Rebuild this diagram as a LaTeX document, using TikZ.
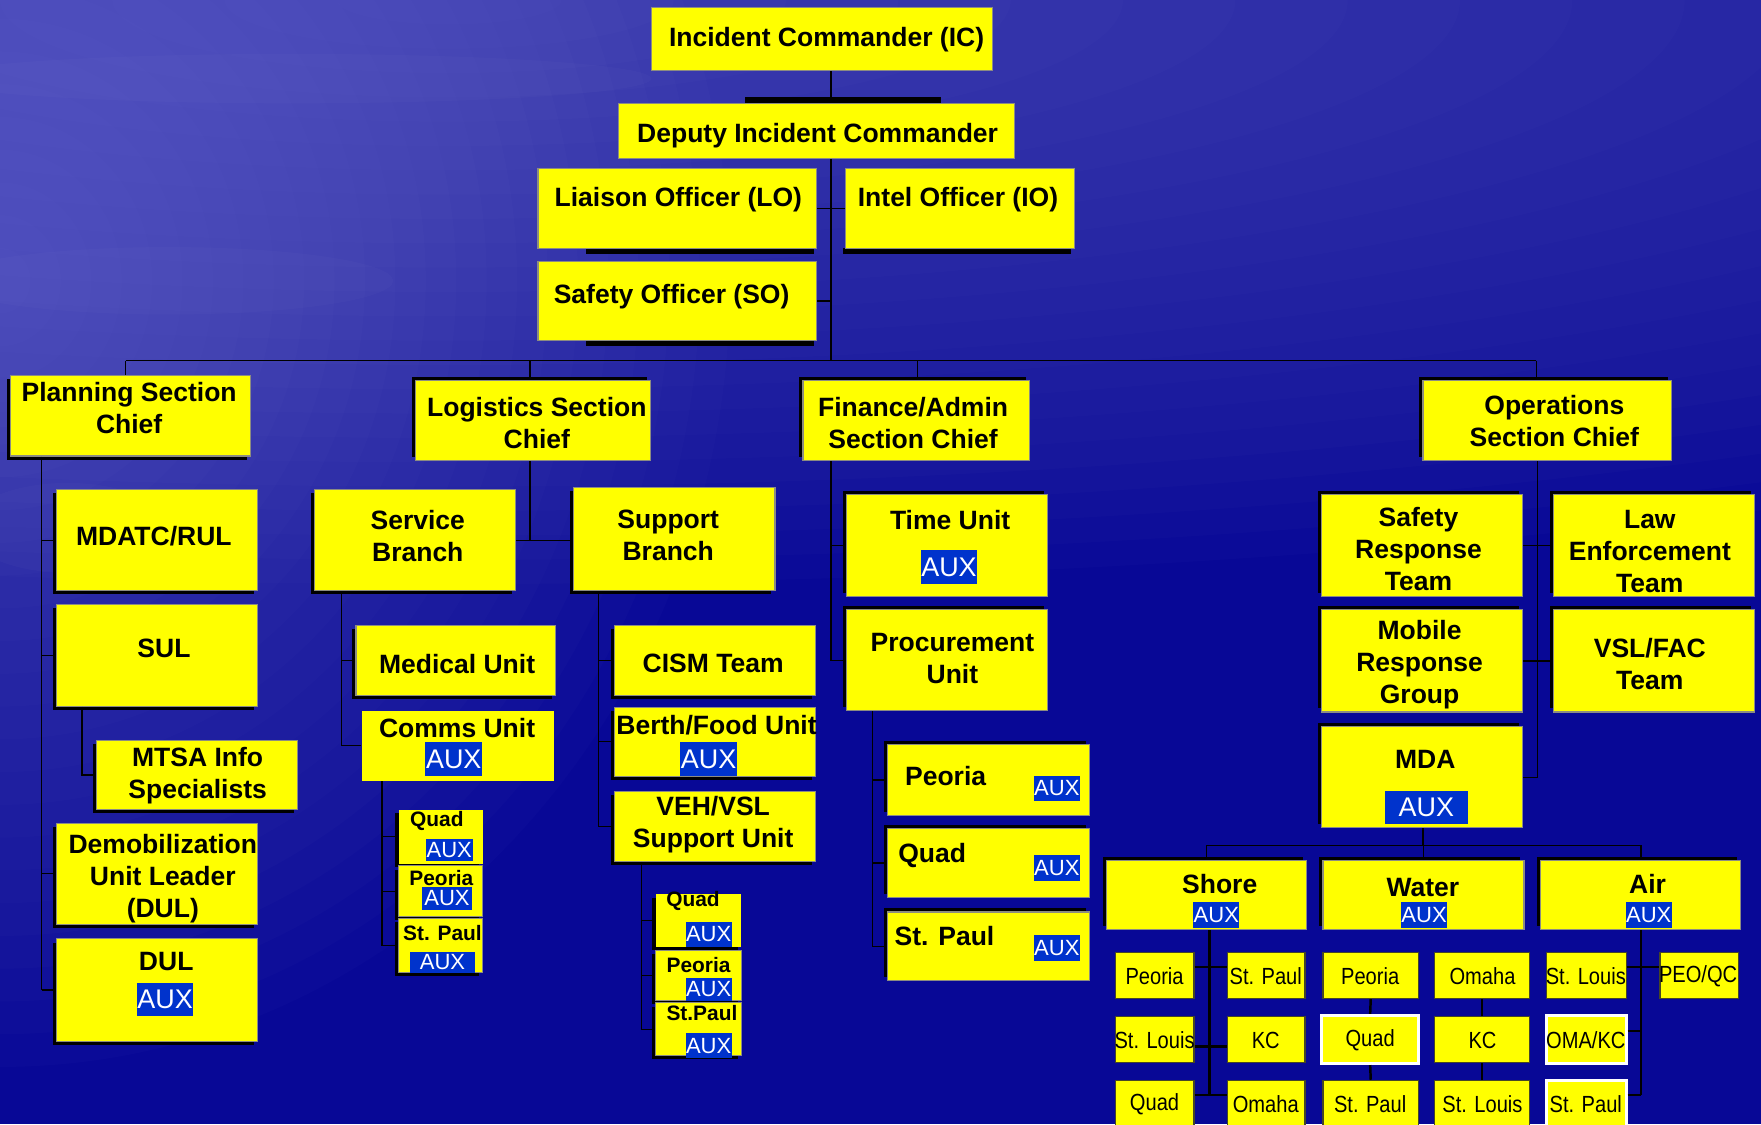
\documentclass[tikz,border=0pt]{standalone}
\usepackage{fontspec}
\setmainfont{Liberation Sans}
\newfontfamily\citycond[FakeStretch=0.86]{Liberation Sans}
\usetikzlibrary{fit,shadows,calc}
\definecolor{bgdark}{RGB}{8,8,150}
\definecolor{bglight}{RGB}{150,150,235}
\definecolor{yel}{RGB}{255,255,0}
\definecolor{auxblue}{RGB}{0,51,204}
\definecolor{edge}{RGB}{140,140,130}
\definecolor{cedge}{RGB}{70,70,40}
\begin{document}
\begin{tikzpicture}[x=0.5pt,y=-0.5pt,
 ybox/.style={fill=yel, draw=edge, line width=0.5pt, inner sep=0pt},
 nobox/.style={fill=yel, draw=none, inner sep=0pt},
 sBL/.style={general shadow={fill=black, shadow xshift=-1.6pt, shadow yshift=-1.6pt}},
 sTL/.style={general shadow={fill=black, shadow xshift=-1.6pt, shadow yshift=1.6pt}},
 city/.style={fill=yel, draw=cedge, line width=0.6pt, inner sep=0pt},
 wcity/.style={fill=yel, draw=white, line width=1.3pt, inner sep=0pt},
 tt/.style={font=\fontsize{11.8}{14.2}\selectfont\bfseries, align=center, inner sep=0pt},
 ts/.style={font=\fontsize{9.3}{11}\selectfont\bfseries, inner sep=0pt},
 tc/.style={font=\citycond\fontsize{10.4}{11}\selectfont, inner sep=0pt},
 auxL/.style={fill=auxblue, text=white, font=\fontsize{12}{12}\selectfont, inner xsep=0.3pt, inner ysep=0pt, minimum height=15pt},
 auxM/.style={fill=auxblue, text=white, font=\fontsize{9.8}{10}\selectfont, inner xsep=0.2pt, inner ysep=0pt, minimum height=11.5pt},
 conn/.style={draw=black, line width=0.6pt},
 tconn/.style={draw=black, line width=1.1pt},
]
\useasboundingbox (0,0) rectangle (1568,1001);
\clip (0,0) rectangle (1568,1001);
% background
\fill[bgdark] (0,0) rectangle (1568,1001);
\foreach \k in {0,...,23}{
  \pgfmathsetmacro\s{1-\k/24}
  \fill[bglight, opacity=0.025] (400,0) ellipse ({2400*\s} and {520*\s});
  \fill[bglight, opacity=0.025] (0,250) ellipse ({650*\s} and {700*\s});
}
\fill[white, opacity=0.02] (260,70) ellipse (320 and 22);
\fill[white, opacity=0.02] (150,250) ellipse (200 and 30);
\fill[white, opacity=0.02] (60,470) ellipse (90 and 40);

% ---------- top command ----------
\node[ybox, fit={(580,7) (884,63)}] (ic) {};
\fill[black] (663,86) rectangle (838,92);
\node[ybox, fit={(551,92) (903,141)}] (dep) {};
\fill[black] (522,221) rectangle (725,226);
\fill[black] (751,221) rectangle (954,226);
\fill[black] (522,303) rectangle (725,308);
\node[ybox, fit={(479,150) (727,221)}] (lo) {};
\node[ybox, fit={(753,150) (957,221)}] (io) {};
\node[ybox, fit={(479,233) (727,303)}] (so) {};
\node[tt] (t-ic) at (736,35) {Incident Commander (IC)};
\node[tt] (t-dep) at (728,121) {Deputy Incident Commander};
\node[tt] (t-lo) at (604,178) {Liaison Officer (LO)};
\node[tt] (t-io) at (853,178) {Intel Officer (IO)};
\node[tt] (t-so) at (598,264) {Safety Officer (SO)};

% ---------- sections ----------
\node[ybox, sBL, fit={(9,334) (223,406)}] (plan) {};
\node[ybox, sTL, fit={(370,339) (579,410)}] (log) {};
\node[ybox, sTL, fit={(715,339) (917,410)}] (fin) {};
\node[ybox, sTL, fit={(1267,339) (1488,410)}] (ops) {};
\node[tt] (t-plan) at (115,363) {Planning Section\\Chief};
\node[tt] (t-log) at (478,377) {Logistics Section\\Chief};
\node[tt] (t-fin) at (813,377) {Finance/Admin\\Section Chief};
\node[tt] (t-ops) at (1384,375) {Operations\\Section Chief};

% ---------- planning ----------
\node[ybox, sBL, fit={(50,436) (229,526)}] (mdatc) {};
\node[ybox, sBL, fit={(50,538) (229,629)}] (sul) {};
\node[ybox, sBL, fit={(86,659) (265,721)}] (mtsa) {};
\node[ybox, sBL, fit={(50,733) (229,823)}] (demob) {};
\node[ybox, sBL, fit={(50,836) (229,927)}] (dul) {};
\node[tt] (t-mdatc) at (137,477) {MDATC/RUL};
\node[tt] (t-sul) at (146,577) {SUL};
\node[tt] (t-mtsa) at (176,691) {MTSA Info\\Specialists};
\node[tt] (t-demob) at (145,782) {Demobilization\\Unit Leader\\(DUL)};
\node[tt] (t-dul) at (148,856) {DUL};
\node[auxL] (a-dul) at (147,890) {AUX};

% ---------- logistics ----------
\node[ybox, sBL, fit={(280,436) (459,526)}] (serv) {};
\node[ybox, sBL, fit={(511,434) (690,526)}] (supp) {};
\node[ybox, sBL, fit={(317,557) (495,619)}] (med) {};
\node[nobox, fit={(322,633) (493,695)}] (comms) {};
\node[nobox, sBL, fit={(355,721) (430,769)}] (lquad) {};
\node[ybox, sBL, fit={(355,771) (430,816)}] (lpeo) {};
\node[ybox, sBL, fit={(355,818) (430,866)}] (lstp) {};
\node[ybox, sBL, fit={(547,557) (726,619)}] (cism) {};
\node[ybox, sBL, fit={(547,630) (726,691)}] (berth) {};
\node[ybox, sBL, fit={(547,705) (726,767)}] (veh) {};
\node[nobox, sBL, fit={(584,796) (660,843)}] (squad) {};
\node[ybox, sBL, fit={(584,846) (660,891)}] (speo) {};
\node[ybox, sBL, fit={(584,893) (660,940)}] (sstp) {};
\node[tt] (t-serv) at (372,477) {Service\\Branch};
\node[tt] (t-supp) at (595,477) {Support\\Branch};
\node[tt] (t-med) at (407,591) {Medical Unit};
\node[tt] (t-comms) at (407,648) {Comms Unit};
\node[auxL] (a-comms) at (404,676) {AUX};
\node[ts] (t-lquad) at (389,731) {Quad};
\node[auxM, minimum width=21pt, minimum height=10pt] (a-lquad) at (400,757) {AUX};
\node[ts] (t-lpeo) at (393,782) {Peoria};
\node[auxM, minimum width=22pt, minimum height=10pt] (a-lpeo) at (398,800) {AUX};
\node[ts] (t-lstp) at (394,831) {St. Paul};
\node[auxM, minimum width=29pt, minimum height=9.5pt] (a-lstp) at (394,857) {AUX};
\node[tt] (t-cism) at (635,591) {CISM Team};
\node[tt] (t-berth) at (638,646) {Berth/Food Unit};
\node[auxL] (a-berth) at (631,676) {AUX};
\node[tt] (t-veh) at (635,734) {VEH/VSL\\Support Unit};
\node[ts] (t-squad) at (617,802) {Quad};
\node[auxM, minimum height=11pt] (a-squad) at (631,832) {AUX};
\node[ts] (t-speo) at (622,859) {Peoria};
\node[auxM, minimum height=10.5pt] (a-speo) at (631,881) {AUX};
\node[ts] (t-sstp) at (625,902) {St.Paul};
\node[auxM, minimum height=11pt] (a-sstp) at (631,931) {AUX};

% ---------- finance ----------
\node[ybox, sTL, fit={(754,440) (933,531)}] (time) {};
\node[ybox, sTL, fit={(754,543) (933,633)}] (proc) {};
\node[ybox, sTL, fit={(790,663) (970,726)}] (fpeo) {};
\node[ybox, sTL, fit={(790,738) (970,799)}] (fquad) {};
\node[ybox, sTL, fit={(790,812) (970,873)}] (fstp) {};
\node[tt] (t-time) at (846,463) {Time Unit};
\node[auxL] (a-time) at (845,505) {AUX};
\node[tt] (t-proc) at (848,586) {Procurement\\Unit};
\node[tt] (t-fpeo) at (842,691) {Peoria};
\node[auxM] (a-fpeo) at (941,702) {AUX};
\node[tt] (t-fquad) at (830,762) {Quad};
\node[auxM] (a-fquad) at (941,773) {AUX};
\node[tt] (t-fstp) at (841,833) {St. Paul};
\node[auxM] (a-fstp) at (941,844) {AUX};

% ---------- operations ----------
\node[ybox, sTL, fit={(1177,440) (1356,531)}] (srt) {};
\node[ybox, sTL, fit={(1383,440) (1562,531)}] (law) {};
\node[ybox, sTL, fit={(1177,543) (1356,634)}] (mrg) {};
\node[ybox, sTL, fit={(1383,543) (1562,634)}] (vsl) {};
\node[ybox, sTL, fit={(1177,647) (1356,737)}] (mda) {};
\node[tt] (t-srt) at (1263,489) {Safety\\Response\\Team};
\node[tt] (t-law) at (1469,491) {Law\\Enforcement\\Team};
\node[tt] (t-mrg) at (1264,592) {Mobile\\Response\\Group};
\node[tt] (t-vsl) at (1469,591) {VSL/FAC\\Team};
\node[tt] (t-mda) at (1269,676) {MDA};
\node[auxL, inner xsep=6pt, minimum height=14.5pt] (a-mda) at (1270,719) {AUX};

\node[ybox, sTL, fit={(985,766) (1163,828)}] (shore) {};
\node[ybox, sTL, fit={(1178,766) (1357,828)}] (water) {};
\node[ybox, sTL, fit={(1372,766) (1550,828)}] (air) {};
\node[tt] (t-shore) at (1086,787) {Shore};
\node[auxM] (a-shore) at (1083,815) {AUX};
\node[tt] (t-water) at (1267,790) {Water};
\node[auxM] (a-water) at (1268,815) {AUX};
\node[tt] (t-air) at (1467,787) {Air};
\node[auxM] (a-air) at (1468,815) {AUX};

% city boxes
\node[city, fit={(993,848) (1063,889)}] (c1) {};
\node[city, fit={(1093,848) (1162,889)}] (c2) {};
\node[city, fit={(993,905) (1063,946)}] (c3) {};
\node[city, fit={(1093,905) (1162,946)}] (c4) {};
\node[city, fit={(993,962) (1063,1015)}] (c5) {};
\node[city, fit={(1093,962) (1162,1015)}] (c6) {};
\node[city, fit={(1178,848) (1263,889)}] (w1) {};
\node[wcity, fit={(1177,904) (1263,947)}] (w2) {};
\node[city, fit={(1178,962) (1263,1015)}] (w3) {};
\node[city, fit={(1277,848) (1362,889)}] (w4) {};
\node[city, fit={(1277,905) (1362,946)}] (w5) {};
\node[city, fit={(1277,962) (1362,1015)}] (w6) {};
\node[city, fit={(1377,848) (1448,889)}] (a1) {};
\node[city, fit={(1478,848) (1548,889)}] (a2) {};
\node[wcity, fit={(1377,904) (1448,947)}] (a3) {};
\node[wcity, fit={(1377,962) (1448,1015)}] (a4) {};
\node[tc] (t-c1) at (1028,869) {Peoria};
\node[tc] (t-c2) at (1127,869) {St. Paul};
\node[tc] (t-c3) at (1028,926) {St. Louis};
\node[tc] (t-c4) at (1127,926) {KC};
\node[tc] (t-c5) at (1028,983) {Quad};
\node[tc] (t-c6) at (1127,983) {Omaha};
\node[tc] (t-w1) at (1220,869) {Peoria};
\node[tc] (t-w2) at (1220,926) {Quad};
\node[tc] (t-w3) at (1220,983) {St. Paul};
\node[tc] (t-w4) at (1320,869) {Omaha};
\node[tc] (t-w5) at (1320,926) {KC};
\node[tc] (t-w6) at (1320,983) {St. Louis};
\node[tc] (t-a1) at (1412,869) {St. Louis};
\node[tc] (t-a2) at (1512,869) {PEO/QC};
\node[tc] (t-a3) at (1412,926) {OMA/KC};
\node[tc] (t-a4) at (1412,983) {St. Paul};

% ---------- connectors ----------
\coordinate (vS) at (740,0);
\coordinate (busy) at (0,321);
\coordinate (dP) at (112,321);
\coordinate (dL) at (472,321);
\coordinate (dF) at (817,321);
\coordinate (dO) at (1368,321);
\draw[conn] (ic.south -| vS) -- (dep.north -| vS);
\draw[conn] (dep.south -| vS) -- (vS |- busy);
\draw[conn] (lo.east) -- (lo.east -| vS);
\draw[conn] (io.west) -- (io.west -| vS);
\draw[conn] (so.east) -- (so.east -| vS);
\draw[conn] (dP) -- (dO);
\draw[conn] (dP) -- (dP |- plan.north);
\draw[conn] (dL) -- (dL |- log.north);
\draw[conn] (dF) -- (dF |- fin.north);
\draw[conn] (dO) -- (dO |- ops.north);

% planning
\coordinate (vP) at (37,0);
\coordinate (vU) at (73,0);
\draw[conn] (plan.south -| vP) -- (dul.west -| vP);
\draw[conn] (mdatc.west -| vP) -- (mdatc.west);
\draw[conn] (sul.west -| vP) -- (sul.west);
\draw[conn] (demob.west -| vP) -- (demob.west);
\draw[conn] (dul.west -| vP) -- (dul.west);
\draw[conn] (sul.south -| vU) |- (mtsa.west);

% logistics
\coordinate (vL) at (472,0);
\coordinate (vSv) at (304,0);
\coordinate (vC) at (340,0);
\coordinate (vSp) at (533,0);
\coordinate (vV) at (571,0);
\draw[conn] (log.south -| vL) -- (vL |- serv.east);
\draw[conn] (serv.east) -- (supp.west |- serv.east);
\draw[conn] (serv.south -| vSv) |- (comms.west);
\draw[conn] (med.west -| vSv) -- (med.west);
\draw[conn] (comms.south -| vC) |- (lstp.west);
\draw[conn] (lquad.west -| vC) -- (lquad.west);
\draw[conn] (lpeo.west -| vC) -- (lpeo.west);
\draw[conn] (supp.south -| vSp) |- (veh.west);
\draw[conn] (cism.west -| vSp) -- (cism.west);
\draw[conn] (berth.west -| vSp) -- (berth.west);
\draw[conn] (veh.south -| vV) |- (sstp.west);
\draw[conn] (squad.west -| vV) -- (squad.west);
\draw[conn] (speo.west -| vV) -- (speo.west);

% finance
\coordinate (vF) at (740,0);
\coordinate (vPr) at (777,0);
\draw[conn] (fin.south -| vF) |- (proc.west);
\draw[conn] (time.west -| vF) -- (time.west);
\draw[conn] (proc.south -| vPr) |- (fstp.west);
\draw[conn] (fpeo.west -| vPr) -- (fpeo.west);
\draw[conn] (fquad.west -| vPr) -- (fquad.west);

% operations
\coordinate (vO) at (1369,0);
\draw[conn] (ops.south -| vO) |- (mda.east);
\draw[conn] (srt.east) -- (law.west |- srt.east);
\draw[conn] (mrg.east) -- (vsl.west |- mrg.east);
\coordinate (vM) at (1267,0);
\coordinate (mb) at (0,753);
\draw[conn] (mda.south -| vM) -- (vM |- mb);
\draw[conn] (shore.north) |- (air.north |- mb) -- (air.north);
\draw[conn] (water.north) -- (water.north |- mb);

% city trees
\coordinate (vSh) at (1077,0);
\coordinate (vA) at (1461,0);
\coordinate (sb1) at (0,861);
\coordinate (sb2) at (0,932);
\coordinate (sb3) at (0,975);
\coordinate (ab2) at (0,918);
\draw[tconn] (shore.south -| vSh) -- (vSh |- sb3);
\draw[tconn] (c1.east |- sb1) -- (c2.west |- sb1);
\draw[tconn] (c3.east |- sb2) -- (c4.west |- sb2);
\draw[tconn] (c5.east |- sb3) -- (c6.west |- sb3);
\draw[tconn] (w1.south) -- (w2.north);
\draw[tconn] (w2.south) -- (w3.north);
\draw[tconn] (w4.south) -- (w5.north);
\draw[tconn] (w5.south) -- (w6.north);
\draw[tconn] (air.south -| vA) -- (vA |- sb3);
\draw[tconn] (a1.east |- sb1) -- (a2.west |- sb1);
\draw[tconn] (a3.east |- ab2) -- (vA |- ab2);
\draw[tconn] (a4.east |- sb3) -- (vA |- sb3);
\end{tikzpicture}
\end{document}
